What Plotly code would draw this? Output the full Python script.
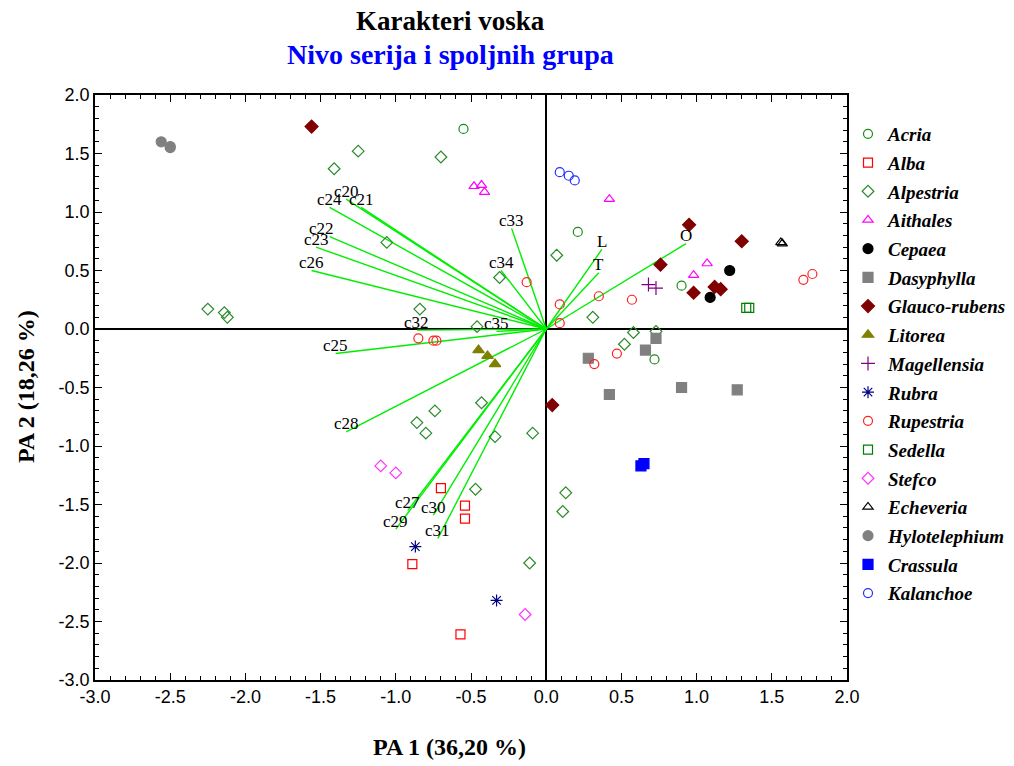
import plotly.graph_objects as go

# ---------------- data ----------------
acria_x = [-0.55, 0.21, 0.90, 0.72]
acria_y = [1.71, 0.83, 0.37, -0.26]
alba_x = [-0.70, -0.54, -0.54, -0.89, -0.57]
alba_y = [-1.36, -1.51, -1.62, -2.01, -2.61]
alpestria_x = [-2.25, -2.14, -2.12, -1.41, -1.25, -0.70, -1.06, -0.31, -0.84, -0.46,
               0.07, 0.31, 0.58, 0.73, 0.52, -0.43, -0.74, -0.86, -0.80, -0.34,
               -0.09, -0.47, 0.13, 0.11, -0.11]
alpestria_y = [0.17, 0.14, 0.10, 1.37, 1.52, 1.47, 0.74, 0.44, 0.17, 0.02,
               0.63, 0.10, -0.03, -0.02, -0.13, -0.63, -0.70, -0.80, -0.89, -0.92,
               -0.89, -1.37, -1.40, -1.56, -2.00]
aithales_x = [-0.48, -0.43, -0.41, 0.42, 1.07, 0.98]
aithales_y = [1.22, 1.23, 1.17, 1.11, 0.56, 0.46]
cepaea_x = [1.22, 1.09]
cepaea_y = [0.50, 0.27]
dasyphylla_x = [0.73, 0.66, 0.28, 0.42, 0.90, 1.27]
dasyphylla_y = [-0.08, -0.18, -0.25, -0.56, -0.50, -0.52]
glauco_x = [-1.56, 0.95, 1.30, 0.76, 0.98, 1.12, 1.16, 0.04]
glauco_y = [1.73, 0.89, 0.75, 0.55, 0.31, 0.36, 0.34, -0.65]
litorea_x = [-0.45, -0.39, -0.34]
litorea_y = [-0.18, -0.23, -0.30]
magellensia_x = [0.68, 0.73]
magellensia_y = [0.38, 0.35]
rubra_x = [-0.87, -0.33]
rubra_y = [-1.86, -2.32]
rupestria_x = [-0.13, 0.09, 0.09, 0.35, 0.57, 1.71, 1.77, -0.85, -0.75, -0.73, 0.47, 0.32]
rupestria_y = [0.40, 0.21, 0.05, 0.28, 0.25, 0.42, 0.47, -0.08, -0.10, -0.10, -0.21, -0.30]
sedella_x = [1.33, 1.35]
sedella_y = [0.18, 0.18]
stefco_x = [-1.10, -1.00, -0.14]
stefco_y = [-1.17, -1.23, -2.44]
echeveria_x = [1.56, 1.57]
echeveria_y = [0.74, 0.73]
hylotelephium_x = [-2.56, -2.50, -2.50]
hylotelephium_y = [1.60, 1.56, 1.55]
crassula_x = [0.63, 0.65]
crassula_y = [-1.17, -1.15]
kalanchoe_x = [0.09, 0.15, 0.19]
kalanchoe_y = [1.34, 1.31, 1.27]

vector_names = ["c20", "c21", "c22", "c23", "c24", "c25", "c26", "c27", "c28", "c29",
                "c30", "c31", "c32", "c33", "c34", "c35", "L", "T", "O"]
vector_x = [-1.33, -1.23, -1.44, -1.53, -1.44, -1.40, -1.56, -0.92, -1.33, -1.00,
            -0.75, -0.72, -0.86, -0.23, -0.30, -0.33, 0.37, 0.35, 0.93]
vector_y = [1.11, 1.04, 0.79, 0.70, 1.04, -0.21, 0.50, -1.55, -0.88, -1.71,
            -1.59, -1.79, -0.01, 0.86, 0.50, -0.02, 0.68, 0.48, 0.73]

x_ticks = [-3.0, -2.5, -2.0, -1.5, -1.0, -0.5, 0.0, 0.5, 1.0, 1.5, 2.0]
y_ticks = [2.0, 1.5, 1.0, 0.5, 0.0, -0.5, -1.0, -1.5, -2.0, -2.5, -3.0]

# ---------------- styles ----------------
groups = [
    ("Acria", acria_x, acria_y, "circle-open", "#1a8c1a"),
    ("Alba", alba_x, alba_y, "square-open", "#ff0000"),
    ("Alpestria", alpestria_x, alpestria_y, "diamond-open", "#2a8a2a"),
    ("Aithales", aithales_x, aithales_y, "triangle-up-open", "#ff00ff"),
    ("Cepaea", cepaea_x, cepaea_y, "circle", "#000000"),
    ("Dasyphylla", dasyphylla_x, dasyphylla_y, "square", "#808080"),
    ("Glauco-rubens", glauco_x, glauco_y, "diamond", "#800000"),
    ("Litorea", litorea_x, litorea_y, "triangle-up", "#808000"),
    ("Magellensia", magellensia_x, magellensia_y, "cross-thin-open", "#800080"),
    ("Rubra", rubra_x, rubra_y, "asterisk-open", "#000080"),
    ("Rupestria", rupestria_x, rupestria_y, "circle-open", "#ff2020"),
    ("Sedella", sedella_x, sedella_y, "square-open", "#008000"),
    ("Stefco", stefco_x, stefco_y, "diamond-open", "#ff33ff"),
    ("Echeveria", echeveria_x, echeveria_y, "triangle-up-open", "#000000"),
    ("Hylotelephium", hylotelephium_x, hylotelephium_y, "circle", "#808080"),
    ("Crassula", crassula_x, crassula_y, "square", "#0000ff"),
    ("Kalanchoe", kalanchoe_x, kalanchoe_y, "circle-open", "#2030ff"),
]

fig = go.Figure()

# vectors from origin
lx, ly = [], []
for vx, vy in zip(vector_x, vector_y):
    lx += [0, vx, None]
    ly += [0, vy, None]
fig.add_trace(go.Scatter(x=lx, y=ly, mode="lines", line=dict(color="#00ee00", width=1.4),
                         showlegend=False, hoverinfo="skip"))

for name, xs, ys, sym, col in groups:
    size = 9
    if sym in ("circle", "square", "diamond", "triangle-up"):
        size = 10
    if sym in ("cross-thin-open", "asterisk-open"):
        size = 10
    fig.add_trace(go.Scatter(
        x=xs, y=ys, mode="markers", name=name, legendgroup=name,
        marker=dict(symbol=sym, size=size, color=col,
                    line=dict(color=col, width=1.2)),
    ))

# vector labels
for n, vx, vy in zip(vector_names, vector_x, vector_y):
    fig.add_annotation(x=vx, y=vy, text=n, showarrow=False, xanchor="center", yanchor="middle",
                       yshift=8, xshift=(-8 if n == "c22" else 0),
                       font=dict(family="Liberation Serif", size=17, color="black"))

# reference-screen geometry of the plot frame (left, right, top, bottom)
PL, PR, PT, PB = 95, 848, 95, 680
PW, PH = PR - PL, PB - PT
W, H, OFF = 1014, 766, 8


def px(xp):
    return (xp - PL) / PW


def py(yp):
    return (PB - yp) / PH


fig.add_annotation(xref="paper", yref="paper", x=px(451), y=py(21),
                   text="<b>Karakteri voska</b>", showarrow=False, xanchor="center", yanchor="middle",
                   font=dict(family="Liberation Serif", size=27, color="black"))
fig.add_annotation(xref="paper", yref="paper", x=px(451), y=py(54),
                   text="<b>Nivo serija i spoljnih grupa</b>", showarrow=False, xanchor="center",
                   yanchor="middle",
                   font=dict(family="Liberation Serif", size=28, color="#0000ff"))
fig.add_annotation(xref="paper", yref="paper", x=px(450), y=py(747),
                   text="<b>PA 1 (36,20 %)</b>", showarrow=False, xanchor="center", yanchor="middle",
                   font=dict(family="Liberation Serif", size=24, color="black"))
fig.add_annotation(xref="paper", yref="paper", x=px(26), y=py(387),
                   text="<b>PA 2 (18,26 %)</b>", showarrow=False, xanchor="center", yanchor="middle",
                   textangle=-90,
                   font=dict(family="Liberation Serif", size=24, color="black"))

axis_common = dict(
    showgrid=False, zeroline=True, zerolinecolor="black", zerolinewidth=2,
    showline=True, linecolor="black", linewidth=1.5, mirror="ticks",
    ticks="inside", ticklen=7, tickwidth=1.2, tickcolor="black",
    minor=dict(ticks="inside", ticklen=4, tickwidth=1, tickcolor="black", dtick=0.1),
    tickfont=dict(family="Liberation Sans", size=18, color="black"),
)

fig.update_xaxes(range=[-3.0, 2.0], tickmode="array", tickvals=x_ticks,
                 ticktext=[f"{v:.1f}" for v in x_ticks], **axis_common)
fig.update_yaxes(range=[-3.0, 2.0], tickmode="array", tickvals=y_ticks,
                 ticktext=[f"{v:.1f}" for v in y_ticks], **axis_common)

# the page body adds an 8px offset, so the margins are shifted to compensate
fig.update_layout(
    width=W, height=H,
    margin=dict(l=PL - OFF, r=W - (PR - OFF), t=PT - OFF, b=H - (PB - OFF)),
    paper_bgcolor="white", plot_bgcolor="white",
    showlegend=True,
    legend=dict(x=1.0, y=py(115), xanchor="left", yanchor="top",
                font=dict(family="Liberation Serif", size=19, color="black",
                          style="italic", weight="bold"),
                tracegroupgap=1, itemwidth=30, borderwidth=0,
                bgcolor="rgba(0,0,0,0)"),
)

fig.write_html("out.html")
